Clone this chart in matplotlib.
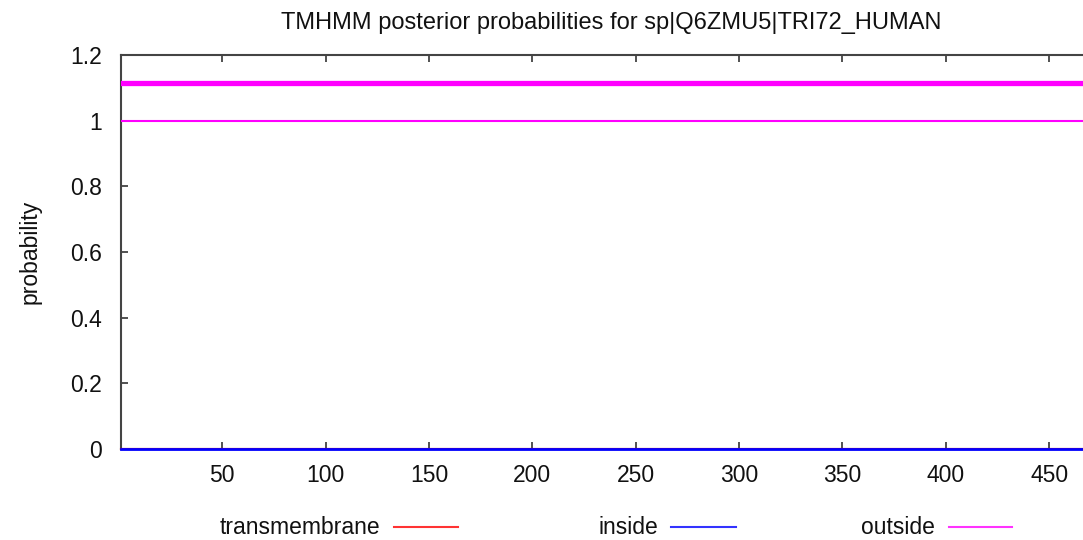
import numpy as np
import matplotlib
matplotlib.use("Agg")
import matplotlib.pyplot as plt
from matplotlib.lines import Line2D

plt.rcParams['font.family'] = ['Liberation Sans', 'DejaVu Sans']

# sequence positions and posterior probabilities (TRI72_HUMAN, 477 aa)
positions = np.arange(1, 478)
transmembrane = np.zeros(len(positions))
inside = np.zeros(len(positions))
outside = np.ones(len(positions))
topology_level = 1.114         # predicted topology bar (outside)

xticks = [50, 100, 150, 200, 250, 300, 350, 400, 450]
yticks = [0, 0.2, 0.4, 0.6, 0.8, 1, 1.2]
ytick_labels = ['0', '0.2', '0.4', '0.6', '0.8', '1', '1.2']

W, H = 1083, 540
fig = plt.figure(figsize=(W / 100, H / 100), dpi=100)

# axes run past the right edge of the picture like the original
left, right, top, bottom = 121, 1105, 55, 449
ax = fig.add_axes([left / W, 1 - bottom / H, (right - left) / W, (bottom - top) / H])

ax.plot(positions, transmembrane, color='#ff0000', lw=1.5, zorder=3, clip_on=False)
ax.plot(positions, inside, color='#0000ff', lw=2.0, zorder=4, clip_on=False)
ax.plot(positions, outside, color='#ff00ff', lw=1.5, zorder=3)
ax.plot(positions, np.full(len(positions), topology_level), color='#ff00ff', lw=3.8, zorder=3)

ax.set_xlim(1, 477)
ax.set_ylim(0, 1.2)
ax.set_xticks(xticks)
ax.set_yticks(yticks)
ax.set_yticklabels(ytick_labels)
ax.tick_params(direction='in', length=5, width=1.2, color='#333333',
               labelsize=16.5, labelcolor='#111111', top=True, right=True)
ax.tick_params(axis='y', pad=14)
ax.tick_params(axis='x', pad=11)
for s in ax.spines.values():
    s.set_color('#444444')
    s.set_linewidth(1.5)

ax.set_ylabel('probability', fontsize=16.5, labelpad=20, color='#111111')
ax.set_title('TMHMM posterior probabilities for sp|Q6ZMU5|TRI72_HUMAN',
             fontsize=17, x=(611 - left) / (right - left), pad=19, color='#111111')

# legend along the bottom
legend_items = [('transmembrane', '#ff3333', 380, 394, 458),
                ('inside', '#3333ff', 658, 671, 736),
                ('outside', '#ff33ff', 935, 949, 1012)]
ly = 1 - 527 / H
for name, col, tx, x0, x1 in legend_items:
    fig.text(tx / W, ly, name, ha='right', va='center', fontsize=16.5, color='#111111')
    fig.add_artist(Line2D([x0 / W, x1 / W], [ly, ly], color=col, lw=1.5,
                          transform=fig.transFigure))

fig.savefig('out.png', dpi=100)
